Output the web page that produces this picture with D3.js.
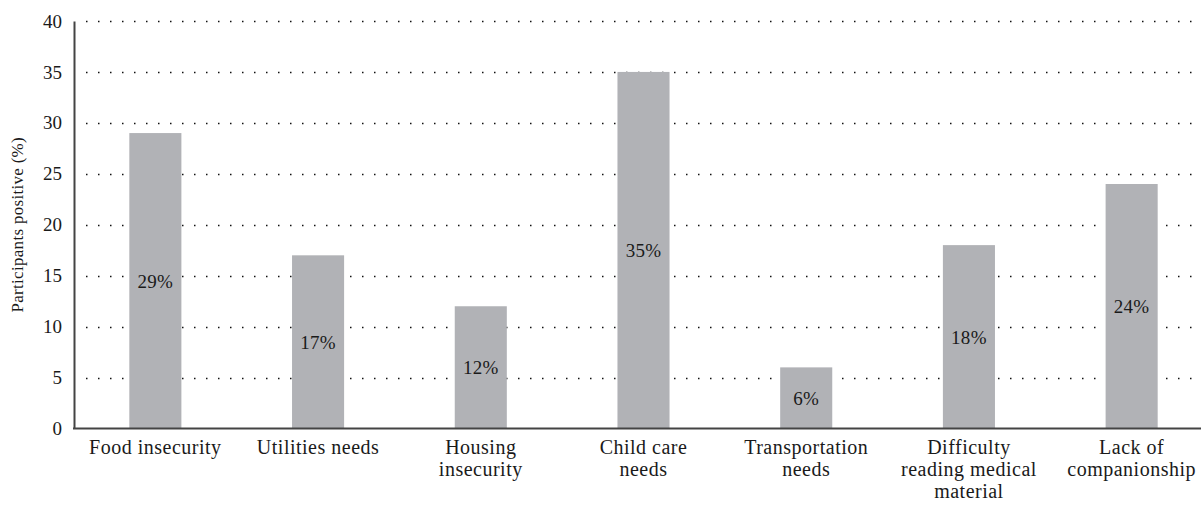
<!DOCTYPE html>
<html>
<head>
<meta charset="utf-8">
<script src="https://cdn.jsdelivr.net/npm/d3@7"></script>
<style>
  body { margin: 0; background: #fff; }
  text { font-family: "Liberation Serif", "Times New Roman", serif; fill: #1a1a1a; }
</style>
</head>
<body>
<div id="chart"></div>
<script>
// categories, line breaks where the original wraps
var categories = ["Food insecurity", "Utilities needs", "Housing\ninsecurity", "Child care\nneeds",
                  "Transportation\nneeds", "Difficulty\nreading medical\nmaterial", "Lack of\ncompanionship"];
var values = [29, 17, 12, 35, 6, 18, 24];
var yTicks = [0, 5, 10, 15, 20, 25, 30, 35, 40];

var width = 1201, height = 506;
var margin = {top: 21, left: 74, bottom: 78};

var svg = d3.select("#chart").append("svg")
    .attr("width", width)
    .attr("height", height);

var x = d3.scaleBand()
    .domain(categories)
    .range([margin.left, 1213])
    .paddingInner(0.68)
    .paddingOuter(0.34);

var y = d3.scaleLinear()
    .domain([0, 40])
    .range([428.5, margin.top]);

// dotted grid
svg.append("g").selectAll("line")
    .data(yTicks.filter(function(d) { return d > 0; }))
    .enter().append("line")
    .attr("x1", margin.left + 2)
    .attr("x2", width)
    .attr("y1", function(d) { return Math.round(y(d)) + 0.5; })
    .attr("y2", function(d) { return Math.round(y(d)) + 0.5; })
    .attr("stroke", "#111")
    .attr("stroke-width", 1.5)
    .attr("stroke-dasharray", "1.5 10.5")
    .attr("stroke-dashoffset", -10);

// bars
svg.append("g").selectAll("rect")
    .data(values)
    .enter().append("rect")
    .attr("x", function(d, i) { return x(categories[i]); })
    .attr("width", x.bandwidth())
    .attr("y", function(d) { return y(d); })
    .attr("height", function(d) { return y(0) - y(d); })
    .attr("fill", "#b1b2b6");

// value labels
svg.append("g").selectAll("text")
    .data(values)
    .enter().append("text")
    .attr("x", function(d, i) { return x(categories[i]) + x.bandwidth() / 2; })
    .attr("y", function(d) { return y(d / 2) + 7; })
    .attr("text-anchor", "middle")
    .style("font-size", "19px")
    .style("letter-spacing", "0.3px")
    .text(function(d) { return d + "%"; });

// y axis
var yAxis = svg.append("g")
    .attr("transform", "translate(" + margin.left + ",0)")
    .call(d3.axisLeft(y).tickValues(yTicks).tickSize(0).tickPadding(12));
yAxis.select(".domain").attr("stroke", "#444").attr("stroke-width", 2);
yAxis.selectAll("text").style("font-size", "19px").style("font-family", "Liberation Serif").attr("fill", "#1a1a1a");

// x axis line
svg.append("line")
    .attr("x1", margin.left - 1)
    .attr("x2", width)
    .attr("y1", y(0))
    .attr("y2", y(0))
    .attr("stroke", "#444")
    .attr("stroke-width", 2);

// category labels
var labels = svg.append("g").selectAll("text")
    .data(categories)
    .enter().append("text")
    .attr("text-anchor", "middle")
    .style("font-size", "20px")
    .style("letter-spacing", "0.5px")
    .attr("transform", function(d) { return "translate(" + (x(d) + x.bandwidth() / 2) + ",454)"; });

labels.each(function(d) {
  var t = d3.select(this);
  d.split("\n").forEach(function(line, k) {
    t.append("tspan").attr("x", 0).attr("dy", k == 0 ? 0 : 22).text(line);
  });
});

// y title
svg.append("text")
    .attr("transform", "translate(23," + (y(0) + y(40)) / 2 + ") rotate(-90)")
    .attr("text-anchor", "middle")
    .style("font-size", "17px")
    .style("letter-spacing", "0.3px")
    .text("Participants positive (%)");
</script>
</body>
</html>
